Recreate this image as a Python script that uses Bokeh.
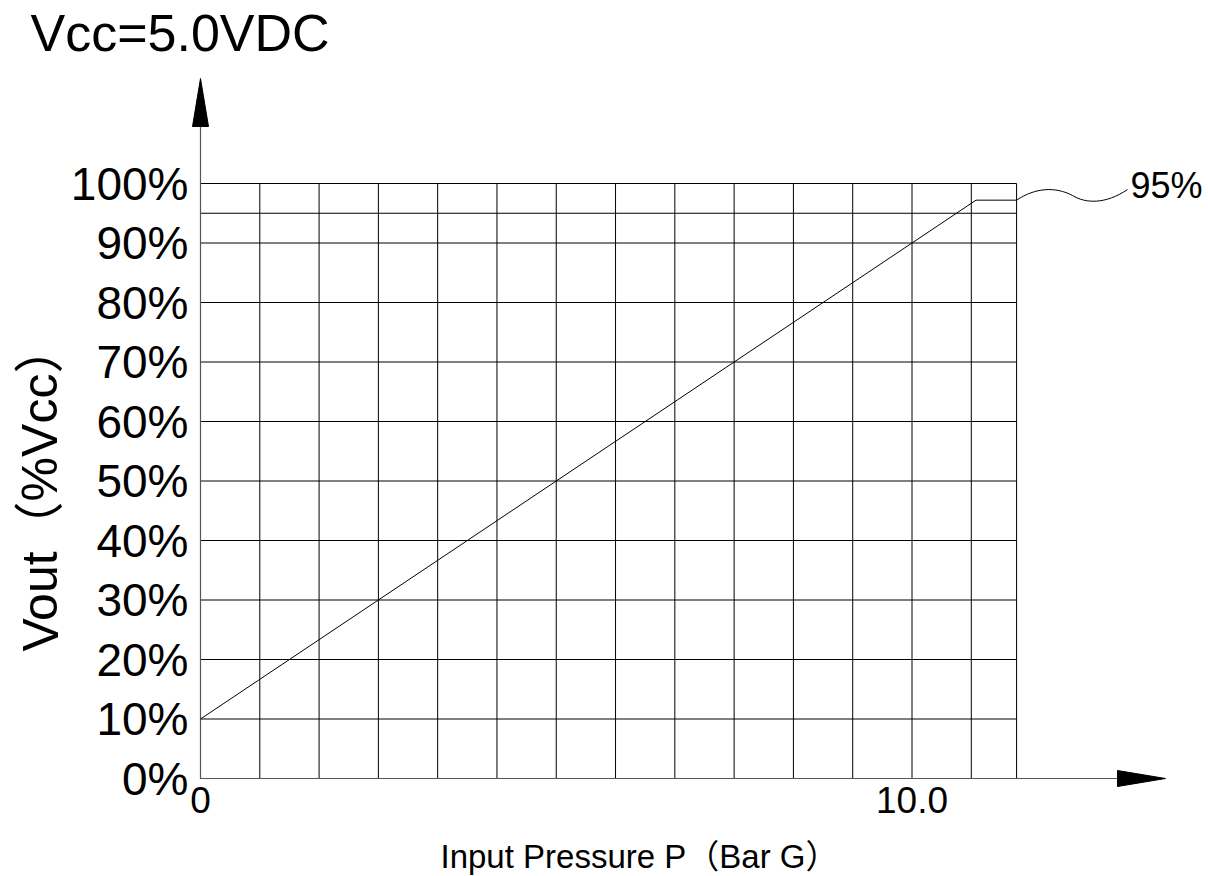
from bokeh.plotting import figure
from bokeh.models import Range1d
from bokeh.core.properties import value
from bokeh.embed import file_html
from bokeh.resources import INLINE

# ---------------- data ----------------
pressure = [0.0, 10.9, 11.47]          # bar G
vout = [10.0, 97.2, 97.2]              # % of Vcc
y_ticks = [0, 10, 20, 30, 40, 50, 60, 70, 80, 90, 100]
y_tick_labels = ["0%", "10%", "20%", "30%", "40%", "50%", "60%", "70%", "80%", "90%", "100%"]
x_ticks = [0.0, 10.0]
x_tick_labels = ["0", "10.0"]
grid_x = [i * 10.0 / 12.0 for i in range(14)] + [11.47]
grid_y = y_ticks + [95]
plateau_label = "95%"
title_text = "Vcc=5.0VDC"
x_title = "Input Pressure P（Bar G）"
y_title = "Vout（%Vcc）"

# ---------------- layout ----------------
W, H = 1208, 876
PX_X = 71.15   # pixels per bar
PX_Y = 5.95    # pixels per %
ORIGIN_X = 200  # canvas px of x=0
ORIGIN_Y = 778  # canvas px (from top) of y=0


def dx(px):
    return px / PX_X


def dy(px):
    return px / PX_Y


x0 = -dx(ORIGIN_X)
x1 = dx(W - ORIGIN_X)
y1 = dy(ORIGIN_Y)
y0 = -dy(H - ORIGIN_Y)

FONT = "Liberation Sans, Noto Sans CJK SC"

p = figure(width=W, height=H, output_backend="svg", toolbar_location=None,
           x_range=Range1d(x0, x1), y_range=Range1d(y0, y1),
           x_axis_type=None, y_axis_type=None, min_border=0,
           min_border_left=0, min_border_right=0, min_border_top=0, min_border_bottom=0)
p.grid.visible = False
p.outline_line_color = None
p.background_fill_color = "white"
p.border_fill_color = "white"

GRID_RIGHT = grid_x[-1]
Y_END = dy(700)     # arrow tip of vertical axis
X_END = dx(965)     # arrow tip of horizontal axis
HEAD_L = 48
HEAD_W = 8

# grid
p.segment(x0=grid_x, y0=[0] * len(grid_x), x1=grid_x, y1=[100] * len(grid_x),
          line_color="black", line_width=1)
p.segment(x0=[0] * len(grid_y), y0=grid_y, x1=[GRID_RIGHT] * len(grid_y), y1=grid_y,
          line_color="black", line_width=1)

# axes with arrows
p.line([0, 0], [0, Y_END - dy(HEAD_L)], line_color="#555555", line_width=1.2)
p.patch([-dx(HEAD_W), dx(HEAD_W), 0], [Y_END - dy(HEAD_L)] * 2 + [Y_END],
        fill_color="black", line_color="black")
p.line([0, X_END - dx(HEAD_L)], [0, 0], line_color="#555555", line_width=1.2)
p.patch([X_END - dx(HEAD_L)] * 2 + [X_END], [dy(HEAD_W), -dy(HEAD_W), 0],
        fill_color="black", line_color="black")

# characteristic line
p.line(pressure, vout, line_color="black", line_width=1)

# wavy leader to the 95% label
sx, sy = pressure[-1], vout[-1]
p.bezier(x0=[sx, dx(872)], y0=[sy, dy(583)],
         x1=[dx(872), dx(927)], y1=[dy(583), dy(589)],
         cx0=[dx(835), dx(885)], cy0=[dy(591), dy(575)],
         cx1=[dx(855), dx(905)], cy1=[dy(592), dy(574)],
         line_color="black", line_width=1)
p.text(x=[dx(930)], y=[dy(593)], text=[plateau_label], text_align="left",
       text_baseline="middle", text_font_size="36px", text_font=value(FONT), text_color="black")

# tick labels
p.text(x=[-dx(12)] * len(y_ticks), y=y_ticks, text=y_tick_labels, text_align="right",
       text_baseline="middle", text_font_size="46px", text_font=value(FONT), text_color="black")
p.text(x=x_ticks, y=[-dy(21)] * len(x_ticks), text=x_tick_labels, text_align="center",
       text_baseline="middle", text_font_size="37px", text_font=value(FONT), text_color="black")

# titles
p.text(x=[-dx(170)], y=[dy(746)], text=[title_text], text_align="left",
       text_baseline="middle", text_font_size="52px", text_font=value(FONT), text_color="black")
p.text(x=[dx(240)], y=[-dy(78)], text=[x_title], text_align="left",
       text_baseline="middle", text_font_size="33px", text_font=value(FONT), text_color="black")
p.text(x=[-dx(160)], y=[dy(127)], text=[y_title], text_align="left", angle=1.5708,
       text_baseline="middle", text_font_size="50px", text_font=value(FONT), text_color="black")

open("out.html", "w").write(file_html(p, INLINE))
